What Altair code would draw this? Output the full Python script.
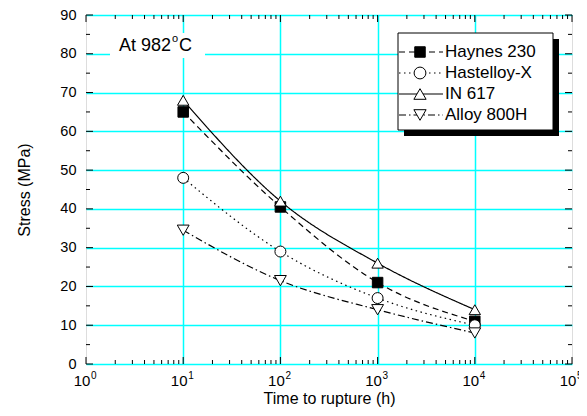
import altair as alt
import pandas as pd

# ---------------- data ----------------
times = [10, 100, 1000, 10000]
haynes_230 = [65, 40.5, 21, 11]
hastelloy_x = [48, 29, 17, 10]
in_617 = [68, 42, 26, 14]
alloy_800h = [34.5, 21.5, 14, 8]

series_names = ["Haynes 230", "Hastelloy-X", "IN 617", "Alloy 800H"]
series_values = [haynes_230, hastelloy_x, in_617, alloy_800h]

x_decades = [1, 10, 100, 1000, 10000, 100000]
x_exponents = ["0", "1", "2", "3", "4", "5"]
x_grid = [10, 100, 1000, 10000]
x_minor = [m * d for d in [1, 10, 100, 1000, 10000] for m in range(2, 10)]
y_major = list(range(0, 91, 10))
y_minor = list(range(5, 90, 10))

# ---------------- styling ----------------
W, H = 486, 349
FONT = "Liberation Sans"
CYAN = "#00FFFF"
dash_range = [[6, 4], [1.5, 3.5], [1, 0], [7, 3, 1.5, 3]]
shape_range = ["square", "circle", "triangle-up", "triangle-down"]
fill_range = ["black", "white", "white", "white"]
size_range = [110, 140, 150, 150]

rows = []
for name, vals in zip(series_names, series_values):
    for t, v in zip(times, vals):
        rows.append({"series": name, "time": t, "stress": v})
df = pd.DataFrame(rows)

xscale = alt.Scale(type="log", domain=[1, 100000], nice=False)
yscale = alt.Scale(domain=[0, 90], nice=False, zero=False)

x_axis = alt.Axis(values=x_grid, grid=True, gridColor=CYAN, gridWidth=1.5,
                  labels=False, ticks=False, domain=False,
                  title="Time to rupture (h)", titleFont=FONT, titleFontSize=16,
                  titleFontWeight="normal", titleColor="black", titlePadding=26)
y_axis = alt.Axis(values=y_major, grid=True, gridColor=CYAN, gridWidth=1.5,
                  ticks=False, domain=False, labelFont=FONT, labelFontSize=14.5,
                  labelColor="black", labelPadding=10,
                  title="Stress (MPa)", titleFont=FONT, titleFontSize=16,
                  titleFontWeight="normal", titleColor="black", titlePadding=27)

X = alt.X("time:Q", scale=xscale, axis=x_axis, title="Time to rupture (h)")
Y = alt.Y("stress:Q", scale=yscale, axis=y_axis, title="Stress (MPa)")

dash_scale = alt.Scale(domain=series_names, range=dash_range)
shape_scale = alt.Scale(domain=series_names, range=shape_range)
fill_scale = alt.Scale(domain=series_names, range=fill_range)
size_scale = alt.Scale(domain=series_names, range=size_range)

base = alt.Chart(df)

lines = base.mark_line(color="black", strokeWidth=1.2, interpolate="monotone").encode(
    x=X, y=Y,
    strokeDash=alt.StrokeDash("series:N", scale=dash_scale, legend=None),
    detail="series:N",
)

points = base.mark_point(filled=True, stroke="black", strokeWidth=1, opacity=1).encode(
    x=X, y=Y,
    shape=alt.Shape("series:N", scale=shape_scale, legend=None),
    fill=alt.Fill("series:N", scale=fill_scale, legend=None),
    size=alt.Size("series:N", scale=size_scale, legend=None),
)

# ---------------- inward ticks ----------------
xmaj = pd.DataFrame({"time": x_decades})
xmin = pd.DataFrame({"time": x_minor})
ymaj = pd.DataFrame({"stress": y_major})
ymin = pd.DataFrame({"stress": y_minor})

def xticks(d, length):
    bottom = alt.Chart(d).mark_rule(color="black", strokeWidth=1).encode(
        x=X, y=alt.value(H), y2=alt.value(H - length))
    top = alt.Chart(d).mark_rule(color="black", strokeWidth=1).encode(
        x=X, y=alt.value(0), y2=alt.value(length))
    return [bottom, top]

def yticks(d, length):
    left = alt.Chart(d).mark_rule(color="black", strokeWidth=1).encode(
        y=Y, x=alt.value(0), x2=alt.value(length))
    right = alt.Chart(d).mark_rule(color="black", strokeWidth=1).encode(
        y=Y, x=alt.value(W), x2=alt.value(W - length))
    return [left, right]

tick_layers = xticks(xmaj, 7) + xticks(xmin, 4) + yticks(ymaj, 7) + yticks(ymin, 4)

# ---------------- x tick labels with superscripts ----------------
lab_df = pd.DataFrame({"time": x_decades, "exp": x_exponents, "base": ["10"] * 6})
lab_base = alt.Chart(lab_df).mark_text(font=FONT, fontSize=15, align="center",
                                       baseline="alphabetic", dx=-4, color="black").encode(
    x=X, y=alt.value(H + 22), text="base:N")
lab_exp = alt.Chart(lab_df).mark_text(font=FONT, fontSize=10, align="left",
                                      baseline="alphabetic", dx=5, color="black").encode(
    x=X, y=alt.value(H + 15), text="exp:N")

# ---------------- annotation "At 982°C" ----------------
one = pd.DataFrame({"k": [0]})
ann_bg = alt.Chart(one).mark_rect(color="white").encode(
    x=alt.value(24), x2=alt.value(119), y=alt.value(18), y2=alt.value(43))
ann_main = alt.Chart(one).mark_text(font=FONT, fontSize=18, align="left",
                                    baseline="alphabetic", color="black").encode(
    x=alt.value(33), y=alt.value(36), text=alt.value("At 982"))
ann_o = alt.Chart(one).mark_text(font=FONT, fontSize=11, align="left",
                                 baseline="alphabetic", color="black").encode(
    x=alt.value(86), y=alt.value(27), text=alt.value("o"))
ann_c = alt.Chart(one).mark_text(font=FONT, fontSize=18, align="left",
                                 baseline="alphabetic", color="black").encode(
    x=alt.value(93), y=alt.value(36), text=alt.value("C"))

# ---------------- legend ----------------
LX0, LX1, LY0, LY1 = 312, 467, 18, 115
shadow = alt.Chart(one).mark_rect(color="black").encode(
    x=alt.value(LX0 + 6), x2=alt.value(LX1 + 6), y=alt.value(LY0 + 6), y2=alt.value(LY1 + 6))
box = alt.Chart(one).mark_rect(fill="white", stroke="black", strokeWidth=1).encode(
    x=alt.value(LX0), x2=alt.value(LX1), y=alt.value(LY0), y2=alt.value(LY1))
legend_layers = [shadow, box]
row_y = [37, 58, 79, 100]
for i, name in enumerate(series_names):
    yy = row_y[i]
    legend_layers.append(alt.Chart(one).mark_rule(color="black", strokeWidth=1.2,
                                                  strokeDash=dash_range[i]).encode(
        x=alt.value(LX0 + 1), x2=alt.value(LX0 + 45), y=alt.value(yy)))
    legend_layers.append(alt.Chart(one).mark_point(shape=shape_range[i], filled=True,
                                                   fill=fill_range[i], stroke="black",
                                                   strokeWidth=1, opacity=1,
                                                   size=size_range[i]).encode(
        x=alt.value(LX0 + 22), y=alt.value(yy)))
    legend_layers.append(alt.Chart(one).mark_text(font=FONT, fontSize=17, align="left",
                                                  baseline="middle", color="black").encode(
        x=alt.value(LX0 + 47), y=alt.value(yy), text=alt.value(name)))

chart = alt.layer(
    lines, *tick_layers, points, lab_base, lab_exp,
    ann_bg, ann_main, ann_o, ann_c, *legend_layers
).properties(
    width=W, height=H,
    autosize=alt.AutoSizeParams(type="none"),
    padding={"left": 78, "top": 7, "right": 7, "bottom": 44},
).configure_view(
    stroke="black", strokeWidth=2
).configure(background="white")

chart.save("out.html", embed_options={"renderer": "svg", "actions": False})
